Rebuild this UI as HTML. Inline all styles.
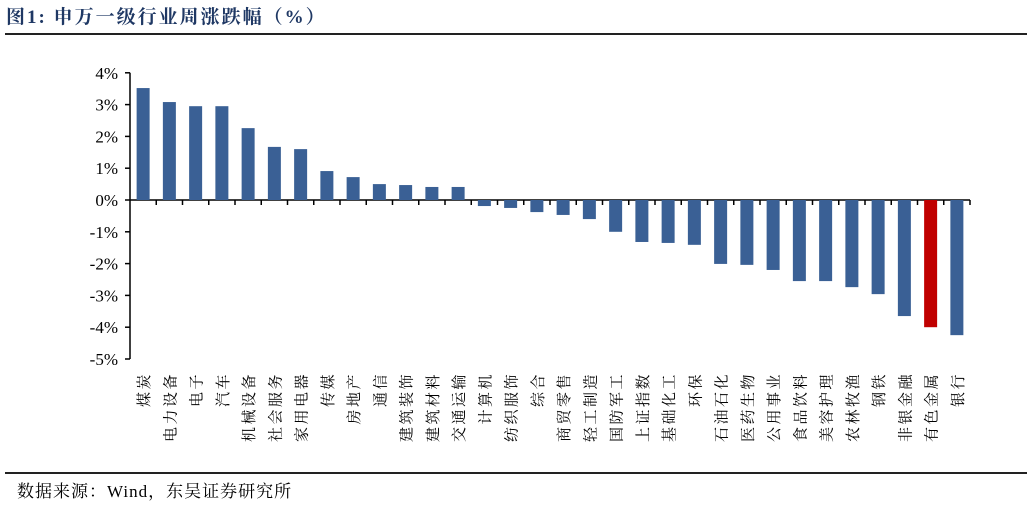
<!DOCTYPE html>
<html><head><meta charset="utf-8"><style>
body{margin:0;background:#fff;width:1032px;height:505px;overflow:hidden}
svg{display:block}
</style></head><body>
<svg width="1032" height="505" xmlns="http://www.w3.org/2000/svg">
<text x="6" y="23" font-family="'Liberation Serif','Noto Serif CJK SC',serif" font-size="19" font-weight="bold" fill="#1f3864" letter-spacing="2">图1:  申万一级行业周涨跌幅（%）</text>
<line x1="5" y1="34" x2="1027" y2="34" stroke="#222" stroke-width="2"/>
<line x1="5" y1="473" x2="1027" y2="473" stroke="#222" stroke-width="2"/>
<text x="17" y="497" font-family="'Liberation Serif','Noto Serif CJK SC',serif" font-size="17" fill="#000" letter-spacing="1">数据来源：Wind，东吴证券研究所</text>
<g id="chart"></g>
</svg>
<script>
(function(){
var vals=[3.52,3.08,2.95,2.95,2.26,1.67,1.6,0.91,0.72,0.5,0.47,0.41,0.41,-0.19,-0.25,-0.38,-0.47,-0.6,-1.0,-1.32,-1.35,-1.41,-2.01,-2.04,-2.2,-2.55,-2.55,-2.74,-2.96,-3.65,-4.0,-4.25];
var names=["煤炭","电力设备","电子","汽车","机械设备","社会服务","家用电器","传媒","房地产","通信","建筑装饰","建筑材料","交通运输","计算机","纺织服饰","综合","商贸零售","轻工制造","国防军工","上证指数","基础化工","环保","石油石化","医药生物","公用事业","食品饮料","美容护理","农林牧渔","钢铁","非银金融","有色金属","银行"];
var ax=130,w=26.25,y0=200,k=31.8,s='';
var ff="font-family=\"'Liberation Serif','Noto Serif CJK SC',serif\"";
for(var i=4;i>=-5;i--){var y=y0-i*k;s+='<line x1="'+(ax-5)+'" y1="'+y+'" x2="'+ax+'" y2="'+y+'" stroke="#000" stroke-width="1.5"/>';s+='<text x="'+(ax-12)+'" y="'+(y+6)+'" text-anchor="end" '+ff+' font-size="17">'+i+'%</text>';}
s+='<line x1="'+ax+'" y1="'+(y0-4*k)+'" x2="'+ax+'" y2="'+(y0+5*k)+'" stroke="#000" stroke-width="1.5"/>';
s+='<line x1="'+ax+'" y1="'+y0+'" x2="'+(ax+32*w)+'" y2="'+y0+'" stroke="#000" stroke-width="1.5"/>';
for(var i=0;i<vals.length;i++){var cx=ax+w*(i+0.5),v=vals[i],h=Math.abs(v)*k,by=v>0?y0-h:y0;
s+='<rect x="'+(cx-6.5)+'" y="'+by+'" width="13" height="'+h+'" fill="'+(i==30?'#c00000':'#3a6095')+'"/>';
s+='<line x1="'+(ax+w*(i+1))+'" y1="'+y0+'" x2="'+(ax+w*(i+1))+'" y2="'+(y0+5)+'" stroke="#000" stroke-width="1.5"/>';
s+='<text transform="translate('+(cx+6)+',372) rotate(-90)" text-anchor="end" '+ff+' font-size="15" letter-spacing="2.5">'+names[i]+'</text>';}
document.getElementById('chart').innerHTML=s;
})();
</script>
</body></html>
